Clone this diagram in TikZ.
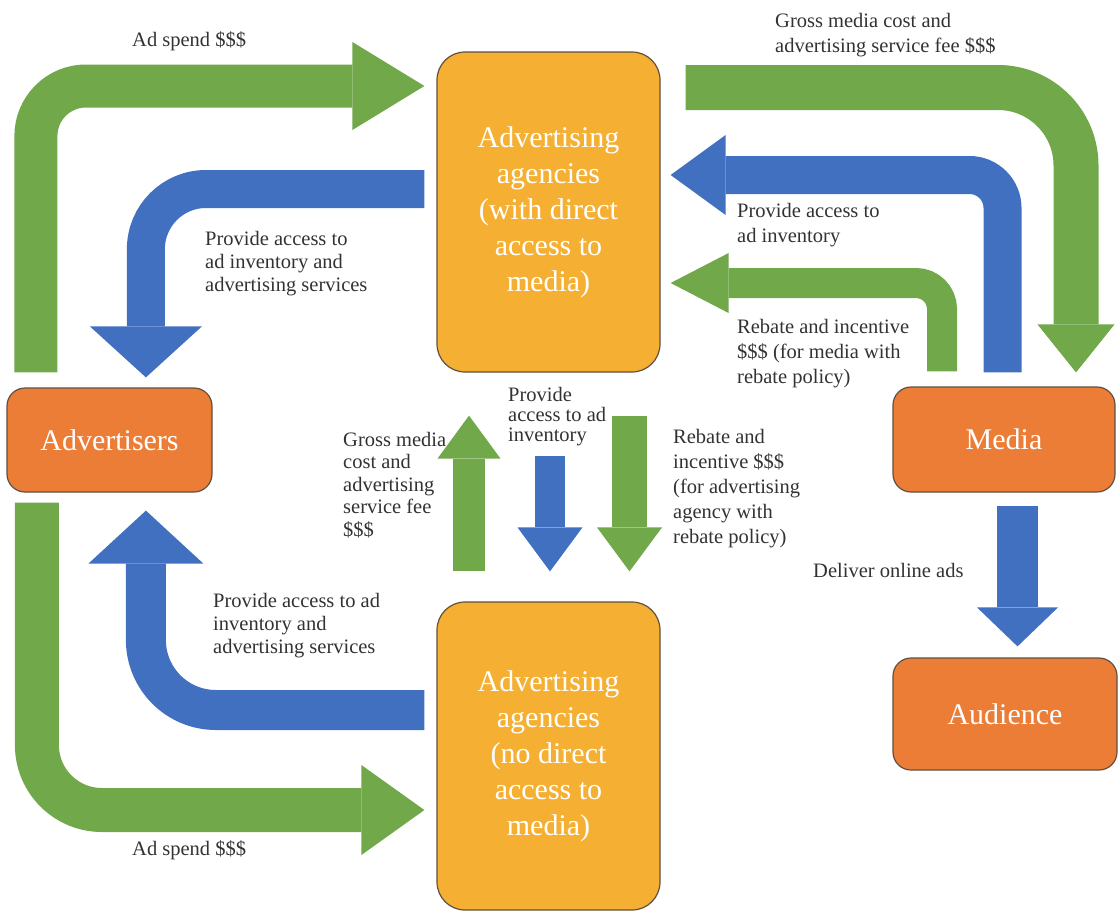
\documentclass[tikz,border=0pt]{standalone}
\usepackage{fontspec}
\setmainfont{LiberationSerif}[Extension=.ttf, UprightFont=*-Regular, BoldFont=*-Bold, ItalicFont=*-Italic, BoldItalicFont=*-BoldItalic]
\usetikzlibrary{arrows.meta,calc}
\definecolor{cG}{RGB}{112,168,74}
\definecolor{cB}{RGB}{66,112,193}
\definecolor{cO}{RGB}{236,125,55}
\definecolor{cY}{RGB}{245,176,52}
\definecolor{cE}{RGB}{95,80,64}
\definecolor{cT}{RGB}{50,50,50}
\tikzset{
  box/.style={draw=cE, line width=1.2pt, rounded corners=#1, align=center,
    text=white, font=\fontsize{30}{36}\selectfont, inner sep=0pt},
  lab/.style={text=cT, align=left, inner sep=0pt, font=\fontsize{20.5}{#1}\selectfont},
  lab/.default=23,
  flow/.style args={#1/#2/#3/#4/#5}{draw=#1, line width=#2pt, rounded corners=#3pt,
    arrows={-{Triangle[length=#4pt,width=#5pt,line width=0pt]}}}
}
\begin{document}
\begin{tikzpicture}[x=1pt,y=-1pt]
\useasboundingbox (0,0) rectangle (1118,913);
% boxes
\node[box=28pt, fill=cY, minimum width=223pt, minimum height=320pt] (agtop) at (548.5,212)
  {Advertising\\agencies\\(with direct\\access to\\media)};
\node[box=28pt, fill=cY, minimum width=223pt, minimum height=308pt] (agbot) at (548.5,756)
  {Advertising\\agencies\\(no direct\\access to\\media)};
\node[box=18pt, fill=cO, minimum width=205pt, minimum height=104pt] (adv) at (109.5,440) {Advertisers};
\node[box=18pt, fill=cO, minimum width=222pt, minimum height=105pt] (media) at (1004,439.5) {Media};
\node[box=18pt, fill=cO, minimum width=224pt, minimum height=112pt] (aud) at (1005,714) {Audience};
% bent connectors
\draw[flow=cG/43/50/72/88] ($(adv.north west)+(29.5,-15)$) |- ($(agtop.west)+(-12,-126)$);
\draw[flow=cB/38/60/51/112] ($(agtop.west)+(-12,-23)$) -| ($(adv.north west)+(139.5,-10)$);
\draw[flow=cG/45/78/48/77] ($(agtop.east)+(25,-124.5)$) -| ($(media.north)+(72,-14)$);
\draw[flow=cB/38/33/55/80] ($(media.north)+(-1.5,-14)$) |- ($(agtop.east)+(10,-37)$);
\draw[flow=cG/30/26/58/60] ($(media.north)+(-62,-15)$) |- ($(agtop.east)+(10,71)$);
\draw[flow=cG/44/65/63/90] ($(adv.south west)+(30.5,10)$) |- ($(agbot.west)+(-12,54)$);
\draw[flow=cB/40/70/53/115] ($(agbot.west)+(-12,-46)$) -| ($(adv.south west)+(139.5,18)$);
% straight connectors
\draw[flow=cG/32/0/43/63] ($(agbot.north)+(-79.5,-30)$) -- ($(agtop.south)+(-79.5,43)$);
\draw[flow=cB/30/0/44/65] ($(agtop.south)+(1.5,83)$) -- ($(agbot.north)+(1.5,-30)$);
\draw[flow=cG/35/0/44/65] ($(agtop.south)+(81,43)$) -- ($(agbot.north)+(81,-30)$);
\draw[flow=cB/41/0/39/81] ($(media.south)+(13.5,13)$) -- ($(aud.north)+(12.5,-11)$);
% labels
\node[lab, anchor=west] (l1) at (132,41) {Ad spend \$\$\$};
\node[lab, anchor=north west] (l2) at (205,231) {Provide access to\\ad inventory and\\advertising services};
\node[lab=25, anchor=north west] (l3) at (775,13) {Gross media cost and\\advertising service fee \$\$\$};
\node[lab=25, anchor=north west] (l4) at (737,203) {Provide access to\\ad inventory};
\node[lab=25, anchor=north west] (l5) at (737,319) {Rebate and incentive\\\$\$\$ (for media with\\rebate policy)};
\node[lab=22.5, anchor=north west] (l6) at (343,432) {Gross media\\cost and\\advertising\\service fee\\\$\$\$};
\node[lab=20, anchor=north west] (l7) at (508,387) {Provide\\access to ad\\inventory};
\node[lab=25, anchor=north west] (l8) at (673,429) {Rebate and\\incentive \$\$\$\\(for advertising\\agency with\\rebate policy)};
\node[lab, anchor=north west] (l9) at (213,593) {Provide access to ad\\inventory and\\advertising services};
\node[lab, anchor=west] (l10) at (132,850) {Ad spend \$\$\$};
\node[lab, anchor=west] (l11) at (813,570) {Deliver online ads};
\end{tikzpicture}
\end{document}
